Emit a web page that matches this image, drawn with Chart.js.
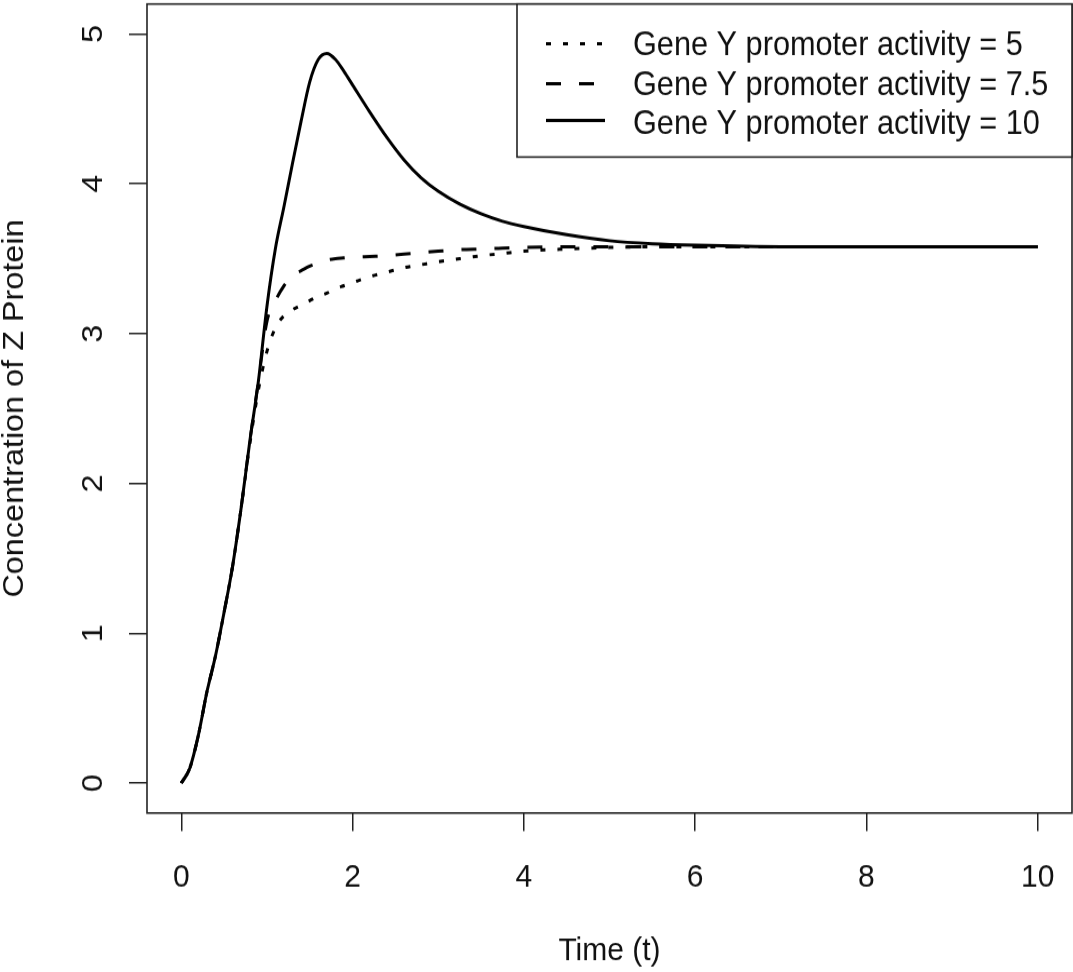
<!DOCTYPE html>
<html>
<head>
<meta charset="utf-8">
<script src="https://cdn.jsdelivr.net/npm/chart.js@4.4.1/dist/chart.umd.min.js"></script>
<style>
  html, body { margin: 0; padding: 0; background: #fff; }
  #c { display: block; width: 1073px; height: 972px; }
</style>
</head>
<body>
<canvas id="c" width="1073" height="900" style="width:1073px;height:972px;"></canvas>
<script>
// ---- data ----
const time = [0, 0.1, 0.2, 0.3, 0.4, 0.5, 0.6, 0.7, 0.8, 0.9, 1.0, 1.1, 1.2, 1.3, 1.4, 1.5, 1.6, 1.7, 1.8, 1.9, 2.0, 2.2, 2.4, 2.6, 2.8, 3.0, 3.25, 3.5, 3.75, 4.0, 4.5, 5.0, 5.5, 6.0, 7.0, 8.0, 9.0, 10.0];

const activity5 = [0, 0.10, 0.32, 0.61, 0.85, 1.14, 1.45, 1.84, 2.26, 2.62, 2.88, 3.04, 3.12, 3.16, 3.19, 3.22, 3.25, 3.27, 3.30, 3.32, 3.34, 3.38, 3.41, 3.44, 3.46, 3.48, 3.50, 3.52, 3.535, 3.55, 3.565, 3.575, 3.58, 3.58, 3.58, 3.58, 3.58, 3.58];

const activity75 = [0, 0.10, 0.32, 0.61, 0.85, 1.14, 1.45, 1.84, 2.28, 2.68, 3.08, 3.22, 3.32, 3.39, 3.42, 3.45, 3.47, 3.49, 3.50, 3.505, 3.51, 3.515, 3.52, 3.53, 3.54, 3.55, 3.56, 3.565, 3.57, 3.575, 3.58, 3.58, 3.58, 3.58, 3.58, 3.58, 3.58, 3.58];

const activity10 = [0, 0.10, 0.32, 0.61, 0.85, 1.14, 1.45, 1.84, 2.28, 2.68, 3.18, 3.57, 3.85, 4.14, 4.42, 4.68, 4.83, 4.87, 4.83, 4.75, 4.66, 4.48, 4.31, 4.16, 4.04, 3.95, 3.865, 3.80, 3.75, 3.715, 3.66, 3.62, 3.60, 3.59, 3.58, 3.58, 3.58, 3.58];

const seriesLabels = ["Gene Y promoter activity = 5", "Gene Y promoter activity = 7.5", "Gene Y promoter activity = 10"];
const xTicks = [0, 2, 4, 6, 8, 10];
const yTicks = [0, 1, 2, 3, 4, 5];
const xTitle = "Time (t)";
const yTitle = "Concentration of Z Protein";

// ---- chart ----
const FONT = '"Liberation Sans", Arial, sans-serif';
const toPoints = vals => time.map((t, i) => ({ x: t, y: vals[i] }));
const noPad = s => { s.paddingTop = 0; s.paddingBottom = 0; s.paddingLeft = 0; s.paddingRight = 0; };

const boxPlugin = {
  id: 'rBox',
  afterDatasetsDraw(chart) {
    const { ctx, chartArea: a } = chart;
    ctx.save();
    ctx.strokeStyle = '#222';
    ctx.lineWidth = 1.6;
    ctx.setLineDash([]);
    ctx.strokeRect(a.left, a.top, a.right - a.left, a.bottom - a.top);
    ctx.restore();
  }
};

const legendPlugin = {
  id: 'rLegend',
  afterDraw(chart) {
    const { ctx, chartArea: a } = chart;
    const left = 517, top = a.top, right = a.right, bottom = 145.4;
    const lineYs = [40.5, 77.5, 111.5];
    const textYs = [42.5, 80.0, 116.0];
    ctx.save();
    ctx.fillStyle = '#fff';
    ctx.fillRect(left, top, right - left, bottom - top);
    ctx.strokeStyle = '#222';
    ctx.lineWidth = 1.6;
    ctx.setLineDash([]);
    ctx.strokeRect(left, top, right - left, bottom - top);
    chart.data.datasets.forEach((ds, i) => {
      ctx.strokeStyle = ds.borderColor;
      ctx.lineWidth = ds.borderWidth;
      ctx.lineCap = 'butt';
      ctx.setLineDash(ds.borderDash || []);
      ctx.beginPath();
      ctx.moveTo(546, lineYs[i]);
      ctx.lineTo(605, lineYs[i]);
      ctx.stroke();
      ctx.setLineDash([]);
      ctx.fillStyle = '#111';
      ctx.font = '30.7px ' + FONT;
      ctx.textBaseline = 'middle';
      ctx.textAlign = 'left';
      ctx.fillText(ds.label, 633, textYs[i]);
    });
    ctx.restore();
  }
};

new Chart(document.getElementById('c'), {
  type: 'line',
  data: {
    datasets: [
      { label: seriesLabels[0], data: toPoints(activity5), borderColor: '#000', borderWidth: 3, borderDash: [5, 12], pointRadius: 0, fill: false, cubicInterpolationMode: 'monotone' },
      { label: seriesLabels[1], data: toPoints(activity75), borderColor: '#000', borderWidth: 3, borderDash: [15, 18], pointRadius: 0, fill: false, cubicInterpolationMode: 'monotone' },
      { label: seriesLabels[2], data: toPoints(activity10), borderColor: '#000', borderWidth: 3, borderDash: [], pointRadius: 0, fill: false, cubicInterpolationMode: 'monotone' }
    ]
  },
  options: {
    responsive: false,
    devicePixelRatio: 1,
    animation: false,
    events: [],
    layout: { padding: { top: 3.7, right: 1, left: 0, bottom: 0 } },
    plugins: { legend: { display: false }, tooltip: { enabled: false } },
    scales: {
      x: {
        type: 'linear',
        min: -0.4, max: 10.4,
        afterBuildTicks: s => { s.ticks = xTicks.map(v => ({ value: v })); },
        afterFit: s => { s.height = 147.2; noPad(s); },
        border: { display: false },
        grid: { display: true, drawOnChartArea: false, drawTicks: true, tickLength: 16.7, color: '#222', lineWidth: 1.5 },
        ticks: { color: '#111', font: { family: FONT, size: 30 }, padding: 25.5, maxRotation: 0, minRotation: 0, callback: v => String(v) },
        title: { display: true, text: xTitle, color: '#111', font: { family: FONT, size: 30, lineHeight: 1 }, padding: { top: 0, bottom: 4.4 } }
      },
      y: {
        type: 'linear',
        min: -0.2, max: 5.2,
        afterBuildTicks: s => { s.ticks = yTicks.map(v => ({ value: v })); },
        afterFit: s => { s.width = 147; noPad(s); },
        border: { display: false },
        grid: { display: true, drawOnChartArea: false, drawTicks: true, tickLength: 18, color: '#222', lineWidth: 1.5 },
        ticks: { color: '#111', font: { family: FONT, size: 30 }, padding: 26.7, minRotation: 90, maxRotation: 90, crossAlign: 'center', callback: v => String(v) },
        title: { display: true, text: yTitle, color: '#111', font: { family: FONT, size: 30, lineHeight: 1 }, padding: { top: 0, bottom: 0 } }
      }
    }
  },
  plugins: [boxPlugin, legendPlugin]
});
</script>
</body>
</html>
